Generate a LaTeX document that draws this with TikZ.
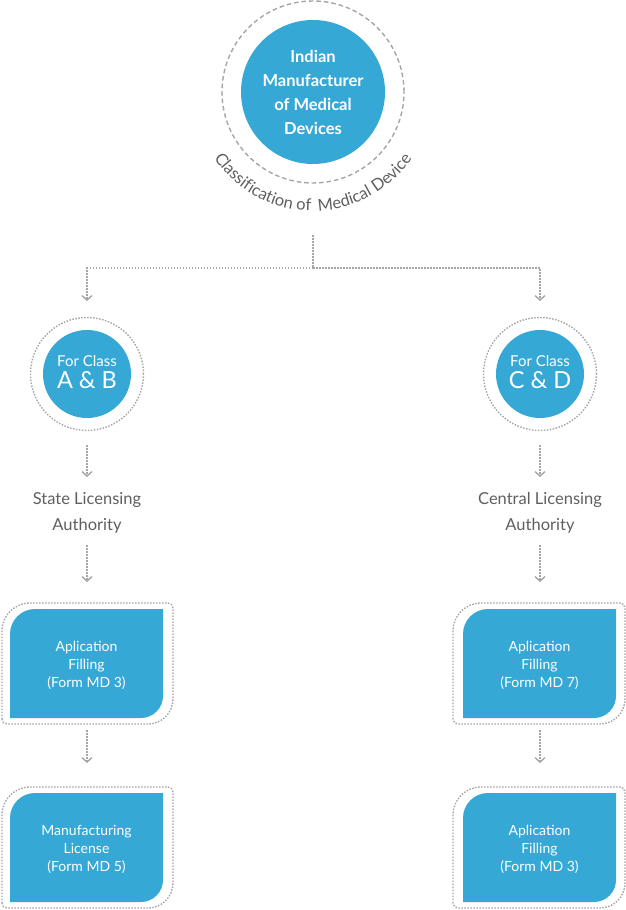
\documentclass[tikz,border=0pt]{standalone}
\usepackage{fontspec}
\setmainfont{Lato}
\usetikzlibrary{arrows.meta,decorations.text}
\definecolor{mblue}{RGB}{54,168,214}
\definecolor{dgray}{RGB}{165,165,165}
\definecolor{tgray}{RGB}{95,95,95}
\newcommand\innerbox[4]{%
  \fill[mblue] (#1,-#4) -- (#1,-#2-25) arc[start angle=180,end angle=90,radius=25]
    -- (#3,-#2) -- (#3,-#4+22) arc[start angle=0,end angle=-90,radius=22] -- cycle;}
\newcommand\outerbox[4]{%
  \draw[dotline] (#1,-#4+5) -- (#1,-#2-28) arc[start angle=180,end angle=90,radius=28]
    -- (#3-5,-#2) arc[start angle=90,end angle=0,radius=5]
    -- (#3,-#4+25) arc[start angle=0,end angle=-90,radius=25]
    -- (#1+5,-#4) arc[start angle=270,end angle=180,radius=5] -- cycle;}
\begin{document}
\begin{tikzpicture}[x=1pt,y=1pt,
  dotline/.style={draw=dgray, line width=1.4pt, dash pattern=on 1.5pt off 1.5pt},
  dashring/.style={draw=dgray, line width=1.4pt, dash pattern=on 4.5pt off 3pt},
  conn/.style={dotline, -{Straight Barb[length=4.5pt,width=10pt]}},
  bigcirc/.style={circle, fill=mblue, minimum size=144pt, inner sep=0pt, text=white,
    align=center, font=\bfseries\fontsize{16.5}{24}\selectfont},
  smallcirc/.style={circle, fill=mblue, minimum size=88pt, inner sep=0pt},
  smalltop/.style={text=white, anchor=base, inner sep=0pt, font=\fontsize{15}{15}\selectfont},
  smallbig/.style={text=white, anchor=base, inner sep=0pt, font=\fontsize{23.5}{23.5}\selectfont},
  authlabel/.style={text=tgray, align=center, inner sep=0pt, font=\fontsize{16.5}{26}\selectfont},
  boxtext/.style={text=white, align=center, inner sep=0pt, font=\fontsize{14}{18}\selectfont}]
\useasboundingbox (0,0) rectangle (626,-910);

% top
\node[bigcirc] (top) at (313,-92) {Indian\\Manufacturer\\of Medical\\Devices};
\draw[dashring] (top.center) circle[radius=91];
\path[decorate, decoration={text along path,
  text={|\fontsize{16.5}{16.5}\selectfont|Classification of {\hspace{3pt}}Medical Device},
  text color=tgray, text align=center}]
  ([shift={(205:119)}]top.center) arc[start angle=205,end angle=335,radius=119];

% connectors from top
\coordinate (s0) at (313,-235);
\coordinate (j) at (313,-268);
\coordinate (la1) at (87,-301);
\coordinate (ra1) at (540,-301);
\draw[dotline] (s0) -- (j);
\draw[conn] (j) -| (la1);
\draw[conn] (j) -| (ra1);

% class circles
\node[smallcirc] (ab) at (87,-374) {};
\draw[dotline] (ab.center) circle[radius=56.5];
\node[smalltop] (abt) at (87,-366) {For Class};
\node[smallbig] (abb) at (87,-388) {A \& B};

\node[smallcirc] (cd) at (540,-374) {};
\draw[dotline] (cd.center) circle[radius=56.5];
\node[smalltop] (cdt) at (540,-366) {For Class};
\node[smallbig] (cdb) at (540,-388) {C \& D};

% arrows to authorities
\coordinate (l2s) at (87,-445); \coordinate (l2e) at (87,-477);
\coordinate (r2s) at (540,-445); \coordinate (r2e) at (540,-477);
\draw[conn] (l2s) -- (l2e);
\draw[conn] (r2s) -- (r2e);

\node[authlabel] (sla) at (87,-513) {State Licensing\\Authority};
\node[authlabel] (cla) at (540,-513) {Central Licensing\\Authority};

\coordinate (l3s) at (87,-545); \coordinate (l3e) at (87,-582);
\coordinate (r3s) at (540,-545); \coordinate (r3e) at (540,-582);
\draw[conn] (l3s) -- (l3e);
\draw[conn] (r3s) -- (r3e);

% boxes row 1
\innerbox{10}{609}{163}{718}
\outerbox{2}{603}{173}{724}
\node[boxtext] (b1) at (86.5,-665) {Aplication\\Filling\\(Form MD 3)};
\innerbox{463}{609}{616}{718}
\outerbox{453}{603}{625}{724}
\node[boxtext] (b2) at (539.5,-665) {Aplication\\Filling\\(Form MD 7)};

\coordinate (l4s) at (87,-730); \coordinate (l4e) at (87,-763);
\coordinate (r4s) at (540,-730); \coordinate (r4e) at (540,-763);
\draw[conn] (l4s) -- (l4e);
\draw[conn] (r4s) -- (r4e);

% boxes row 2
\innerbox{10}{793}{163}{902}
\outerbox{2}{787}{173}{908}
\node[boxtext] (b3) at (86.5,-849) {Manufacturing\\License\\(Form MD 5)};
\innerbox{463}{793}{616}{902}
\outerbox{453}{787}{625}{908}
\node[boxtext] (b4) at (539.5,-849) {Aplication\\Filling\\(Form MD 3)};
\end{tikzpicture}
\end{document}
